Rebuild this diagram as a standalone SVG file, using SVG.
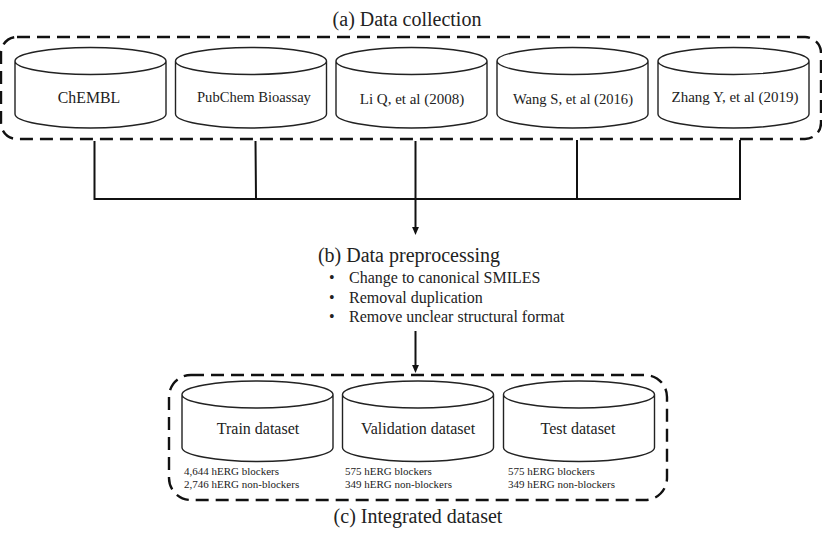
<svg xmlns="http://www.w3.org/2000/svg" width="822" height="540" viewBox="0 0 822 540">
<style>
text{font-family:"Liberation Serif","Times New Roman",serif;fill:#222}
.t{font-size:20px;text-anchor:middle}
.n{font-size:15px;text-anchor:middle}
.d{font-size:16px;text-anchor:middle}
.p{font-size:14.600px}
.b{font-size:16px}
.s{font-size:11px}
.box{fill:none;stroke:#111;stroke-width:2.4;stroke-dasharray:13 7}
.cyl{fill:#fff;stroke:#222;stroke-width:1.4}
.line{fill:none;stroke:#111;stroke-width:2}
</style>
<defs>
<marker id="arrow" markerWidth="8" markerHeight="8" refX="3.500" refY="3" orient="auto" markerUnits="userSpaceOnUse" viewBox="0 0 7 6"><path d="M0 0L7 3L0 6Z" fill="#111"/></marker>
<path id="cyl" class="cyl" d="M0 14A75.500 13.500 0 0 1 151 14A75.500 13.500 0 0 1 0 14V67C0 74.500 33.800 81 75.500 81S151 74.500 151 67V14"/>
</defs>
<text class="t" x="407" y="26">(a) Data collection</text>
<rect id="group-a" class="box" x="1" y="37" width="820" height="102" rx="16"/>
<g id="chembl"><use href="#cyl" x="15" y="47"/><text class="n" x="89" y="103" style="font-size:15.800px">ChEMBL</text></g>
<g id="pubchem"><use href="#cyl" x="175.500" y="47"/><text class="p" x="197" y="102">PubChem Bioassay</text></g>
<g id="liq"><use href="#cyl" x="336" y="47"/><text class="n" x="412" y="104">Li Q, et al (2008)</text></g>
<g id="wang"><use href="#cyl" x="497" y="47"/><text class="n" x="573" y="104" style="font-size:14.600px">Wang S, et al (2016)</text></g>
<g id="zhang"><use href="#cyl" x="658" y="47"/><text class="n" x="735" y="102">Zhang Y, et al (2019)</text></g>
<g id="connectors">
<path class="line" d="M94.500 141V199H740V140M255.500 141L256 199M577 140V199"/>
<path class="line" d="M415.500 141V231" marker-end="url(#arrow)"/>
<path class="line" d="M415.500 331V369" marker-end="url(#arrow)"/>
</g>
<g id="preprocessing">
<text class="t" x="409" y="262">(b) Data preprocessing</text>
<text class="b" x="329" y="283">•</text><text class="b" x="349" y="283">Change to canonical SMILES</text>
<text class="b" x="329" y="303">•</text><text class="b" x="349" y="303">Removal duplication</text>
<text class="b" x="329" y="322">•</text><text class="b" x="349" y="322">Remove unclear structural format</text>
</g>
<rect id="group-c" class="box" x="169" y="375" width="498" height="125" rx="22"/>
<g id="train"><use href="#cyl" x="182" y="380.500"/><text class="d" x="258" y="434">Train dataset</text><text class="s" x="184" y="474.500">4,644 hERG blockers</text><text class="s" x="184" y="487.500">2,746 hERG non-blockers</text></g>
<g id="validation"><use href="#cyl" x="342.500" y="380.500"/><text class="d" x="418" y="434">Validation dataset</text><text class="s" x="345" y="474.500">575 hERG blockers</text><text class="s" x="345" y="487.500">349 hERG non-blockers</text></g>
<g id="test"><use href="#cyl" x="503.500" y="380.500"/><text class="d" x="578" y="434">Test dataset</text><text class="s" x="508" y="474.500">575 hERG blockers</text><text class="s" x="508" y="487.500">349 hERG non-blockers</text></g>
<text class="t" x="418" y="523">(c) Integrated dataset</text>
</svg>
